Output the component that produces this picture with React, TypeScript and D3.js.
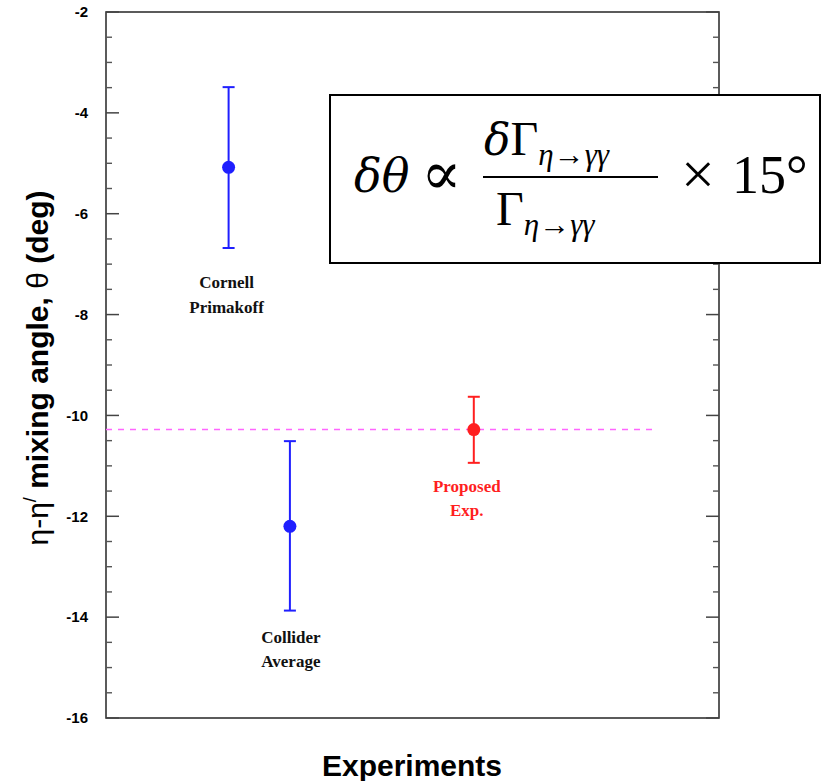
import React from 'react';
import * as d3 from 'd3';

const experiments = ['Cornell Primakoff', 'Collider Average', 'Proposed Exp.'];
const labelLines = [['Cornell', 'Primakoff'], ['Collider', 'Average'], ['Proposed', 'Exp.']];
const xPos = [2, 3, 6];
const centre = [-5.08, -12.2, -10.28];
const upper = [-3.49, -10.51, -9.63];
const lower = [-6.68, -13.87, -10.94];
const colors = ['#1f1fff', '#1f1fff', '#ff1f1f'];
const yTicks = [-2, -4, -6, -8, -10, -12, -14, -16];
const proposedLevel = -10.28;

export default function App() {
  const W = 827, H = 781;
  const margin = { top: 12, right: 108, bottom: 63, left: 106 };
  const w = W - margin.left - margin.right;
  const h = H - margin.top - margin.bottom;

  const x = d3.scaleLinear().domain([0, 10]).range([0, w]);
  const y = d3.scaleLinear().domain([-16, -2]).range([h, 0]);

  const minor = d3.range(-16, -2, 0.5).filter(v => !yTicks.includes(v));

  const axisFont = 'Liberation Sans, Arial, sans-serif';
  const serif = 'Liberation Serif, Times New Roman, serif';
  const mathFont = 'DejaVu Serif, Liberation Serif, serif';

  // label nudges (px) relative to the point / lower bar end
  const labelDx = [-2, 1, -7];
  const labelDy = [40, 32, 29];

  return (
    <svg width={W} height={H} style={{ position: 'absolute', left: 0, top: 0, background: '#fff' }}>
      <g transform={`translate(${margin.left},${margin.top})`}>
        {/* frame */}
        <rect x={0} y={0} width={w} height={h} fill="none" stroke="#333" strokeWidth={1.6} />

        {/* ticks, left and right */}
        {yTicks.map(t => (
          <g key={'M' + t}>
            <line x1={0} x2={13} y1={y(t)} y2={y(t)} stroke="#444" strokeWidth={1.5} />
            <line x1={w - 13} x2={w} y1={y(t)} y2={y(t)} stroke="#444" strokeWidth={1.5} />
            <text x={-18} y={y(t)} dy="0.35em" textAnchor="end" fontFamily={axisFont}
                  fontWeight="bold" fontSize={15} fill="#000">{t}</text>
          </g>
        ))}
        {minor.map(t => (
          <g key={'m' + t}>
            <line x1={0} x2={6} y1={y(t)} y2={y(t)} stroke="#555" strokeWidth={1.4} />
            <line x1={w - 6} x2={w} y1={y(t)} y2={y(t)} stroke="#555" strokeWidth={1.4} />
          </g>
        ))}

        {/* proposed level */}
        <line x1={x(0)} x2={x(9)} y1={y(proposedLevel)} y2={y(proposedLevel)}
              stroke="#ff66ff" strokeWidth={1.5} strokeDasharray="6,6" />

        {/* error bars and points */}
        {experiments.map((e, i) => {
          const cx = x(xPos[i]);
          return (
            <g key={e} stroke={colors[i]} fill={colors[i]}>
              <line x1={cx} x2={cx} y1={y(upper[i])} y2={y(lower[i])} strokeWidth={2} />
              <line x1={cx - 6} x2={cx + 6} y1={y(upper[i])} y2={y(upper[i])} strokeWidth={2} />
              <line x1={cx - 6} x2={cx + 6} y1={y(lower[i])} y2={y(lower[i])} strokeWidth={2} />
              <circle cx={cx} cy={y(centre[i])} r={6.5} stroke="none" />
            </g>
          );
        })}

        {/* point labels */}
        {labelLines.map((lines, i) => {
          const cx = x(xPos[i]) + labelDx[i];
          const top = y(lower[i]) + labelDy[i];
          return (
            <text key={i} textAnchor="middle" fontFamily={serif} fontWeight="bold" fontSize={17}
                  fill={i === 2 ? '#ff1f1f' : '#111'}>
              {lines.map((l, j) => (
                <tspan key={j} x={cx} y={top + j * 24.5}>{l}</tspan>
              ))}
            </text>
          );
        })}
      </g>

      {/* formula box */}
      <g>
        <rect x={330} y={95} width={490} height={168} fill="#fff" stroke="#000" strokeWidth={2} />
        <text x={354} y={192} fontFamily={mathFont} fontSize={46} fontStyle="italic" fill="#000">
          δθ
        </text>
        <text x={421} y={194} fontFamily={mathFont} fontSize={60} fill="#000">∝</text>
        <text x={484} y={155} fontFamily={serif} fontSize={48} fill="#000">
          <tspan fontStyle="italic" fontFamily={mathFont} fontSize={44}>δ</tspan><tspan>Γ</tspan>
          <tspan fontSize={31} fontStyle="italic" dy={10}>η→γγ</tspan>
        </text>
        <line x1={483} x2={658} y1={177} y2={177} stroke="#000" strokeWidth={2} />
        <text x={496} y={225} fontFamily={serif} fontSize={48} fill="#000">
          <tspan>Γ</tspan>
          <tspan fontSize={31} fontStyle="italic" dy={10}>η→γγ</tspan>
        </text>
        <text x={681} y={194} fontFamily={serif} fontSize={60} fill="#000">×</text>
        <text x={732} y={193} fontFamily={serif} fontSize={54} fill="#000">15°</text>
      </g>

      {/* axis titles */}
      <text transform="translate(48,368) rotate(-90)" textAnchor="middle" fontFamily={axisFont}
            fontSize={30} fill="#000">
        <tspan>η-η</tspan>
        <tspan fontSize={18} dy={-12}>/</tspan>
        <tspan dy={12} fontWeight="bold"> mixing angle, </tspan>
        <tspan>θ</tspan>
        <tspan fontWeight="bold"> (deg)</tspan>
      </text>
      <text x={412} y={776} textAnchor="middle" fontFamily={axisFont} fontWeight="bold"
            fontSize={30} fill="#000">Experiments</text>
    </svg>
  );
}
